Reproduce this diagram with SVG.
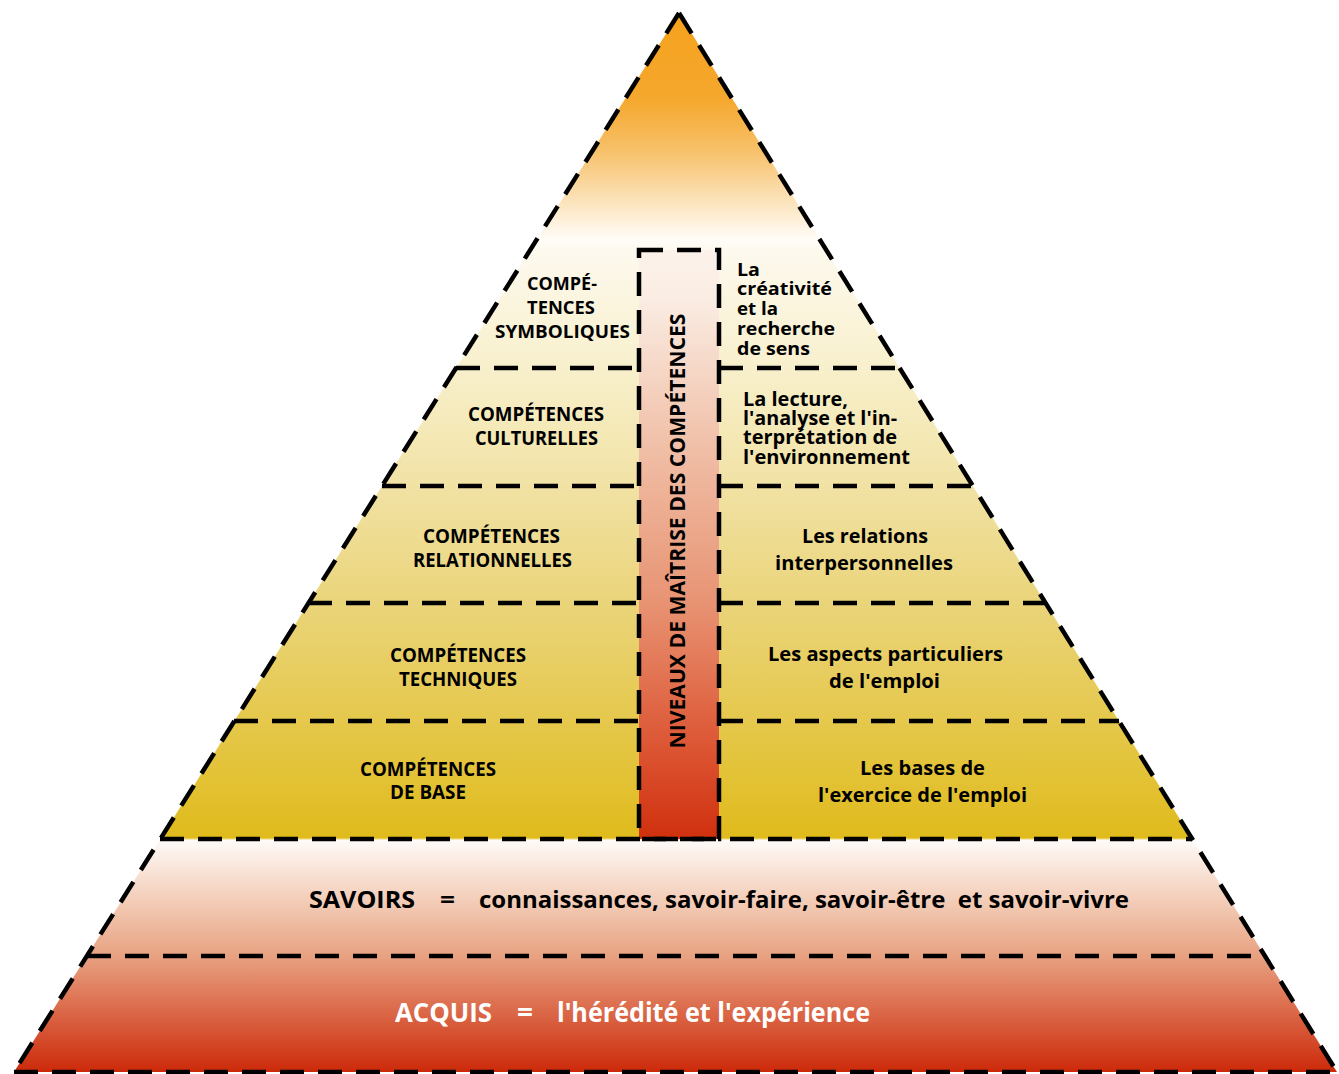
<svg xmlns="http://www.w3.org/2000/svg" width="1339" height="1074" viewBox="0 0 1339 1074">
<defs>
<linearGradient id="gPyr" gradientUnits="userSpaceOnUse" x1="0" y1="13" x2="0" y2="1072">
<stop offset="0" stop-color="#f5a11c"/>
<stop offset="0.082" stop-color="#f5a82e"/>
<stop offset="0.129" stop-color="#f7c068"/>
<stop offset="0.214" stop-color="#fffdf8"/>
<stop offset="0.224" stop-color="#fdf9ee"/>
<stop offset="0.335" stop-color="#f8f0cc"/>
<stop offset="0.447" stop-color="#f1e2a4"/>
<stop offset="0.557" stop-color="#ead47a"/>
<stop offset="0.669" stop-color="#e5c84c"/>
<stop offset="0.779" stop-color="#e0bb1c"/>
<stop offset="0.781" stop-color="#fefaf8"/>
<stop offset="0.838" stop-color="#f3cdb8"/>
<stop offset="0.890" stop-color="#e8a282"/>
<stop offset="1" stop-color="#cc2a0a"/>
</linearGradient>
<linearGradient id="gCol" gradientUnits="userSpaceOnUse" x1="0" y1="250" x2="0" y2="839">
<stop offset="0" stop-color="#fcf2ea"/>
<stop offset="0.085" stop-color="#faece2"/>
<stop offset="0.34" stop-color="#f0bea6"/>
<stop offset="0.594" stop-color="#e89474"/>
<stop offset="0.849" stop-color="#dc5432"/>
<stop offset="1" stop-color="#d0300e"/>
</linearGradient>
</defs>
<style>
.dash{fill:none;stroke:#000;stroke-width:4.5;stroke-dasharray:24 14}
text{font-family:"Open Sans","Liberation Sans",sans-serif;font-weight:700;fill:#000}
.cap{font-size:19px}
.cap18{font-size:18px}
.low{font-size:20px}
.low18{font-size:18.5px}
.big{font-size:24px}
.white{fill:#fff;font-size:26px}
</style>
<g id="pyramid-fill">
<polygon points="679,13 14,1072 1337,1072" fill="url(#gPyr)"/>
</g>
<g id="column">
<rect x="639" y="250" width="80" height="589" fill="url(#gCol)"/>
<rect x="639" y="250" width="80" height="589" class="dash"/>
<text transform="translate(685,531) rotate(-90)" text-anchor="middle" font-size="21" textLength="435" lengthAdjust="spacingAndGlyphs">NIVEAUX DE MAÎTRISE DES COMPÉTENCES</text>
</g>
<g id="connectors">
<line class="dash" x1="679" y1="13" x2="14" y2="1072"/>
<line class="dash" x1="679" y1="13" x2="1337" y2="1072"/>
<line class="dash" x1="14" y1="1072" x2="1337" y2="1072"/>
<line class="dash" x1="456" y1="368" x2="639" y2="368"/>
<line class="dash" x1="719" y1="368" x2="900" y2="368"/>
<line class="dash" x1="382" y1="486" x2="639" y2="486"/>
<line class="dash" x1="719" y1="486" x2="973" y2="486"/>
<line class="dash" x1="308" y1="603" x2="639" y2="603"/>
<line class="dash" x1="719" y1="603" x2="1046" y2="603"/>
<line class="dash" x1="234" y1="721" x2="639" y2="721"/>
<line class="dash" x1="719" y1="721" x2="1119" y2="721"/>
<line class="dash" x1="160" y1="839" x2="1192" y2="839"/>
<line class="dash" x1="87" y1="956" x2="1265" y2="956"/>
</g>
<g id="symboliques">
<text class="cap18" x="527" y="290" textLength="70" lengthAdjust="spacingAndGlyphs">COMPÉ-</text>
<text class="cap18" x="527" y="314" textLength="68" lengthAdjust="spacingAndGlyphs">TENCES</text>
<text class="cap18" x="495" y="338" textLength="135" lengthAdjust="spacingAndGlyphs">SYMBOLIQUES</text>
<text class="low18" x="737" y="276" textLength="23" lengthAdjust="spacingAndGlyphs">La</text>
<text class="low18" x="737" y="295" textLength="95" lengthAdjust="spacingAndGlyphs">créativité</text>
<text class="low18" x="737" y="315" textLength="41" lengthAdjust="spacingAndGlyphs">et la</text>
<text class="low18" x="737" y="335" textLength="98" lengthAdjust="spacingAndGlyphs">recherche</text>
<text class="low18" x="737" y="355" textLength="73" lengthAdjust="spacingAndGlyphs">de sens</text>
</g>
<g id="culturelles">
<text class="cap" x="468" y="421" textLength="136" lengthAdjust="spacingAndGlyphs">COMPÉTENCES</text>
<text class="cap" x="475" y="445" textLength="123" lengthAdjust="spacingAndGlyphs">CULTURELLES</text>
<text class="low" x="743" y="406" textLength="105" lengthAdjust="spacingAndGlyphs">La lecture,</text>
<text class="low" x="743" y="425" textLength="154" lengthAdjust="spacingAndGlyphs">l'analyse et l'in-</text>
<text class="low" x="743" y="444" textLength="154" lengthAdjust="spacingAndGlyphs">terprétation de</text>
<text class="low" x="743" y="464" textLength="167" lengthAdjust="spacingAndGlyphs">l'environnement</text>
</g>
<g id="relationnelles">
<text class="cap" x="423" y="543" textLength="137" lengthAdjust="spacingAndGlyphs">COMPÉTENCES</text>
<text class="cap" x="413" y="567" textLength="159" lengthAdjust="spacingAndGlyphs">RELATIONNELLES</text>
<text class="low" x="802" y="543" textLength="126" lengthAdjust="spacingAndGlyphs">Les relations</text>
<text class="low" x="775" y="570" textLength="178" lengthAdjust="spacingAndGlyphs">interpersonnelles</text>
</g>
<g id="techniques">
<text class="cap" x="390" y="662" textLength="136" lengthAdjust="spacingAndGlyphs">COMPÉTENCES</text>
<text class="cap" x="399" y="686" textLength="118" lengthAdjust="spacingAndGlyphs">TECHNIQUES</text>
<text class="low" x="768" y="661" textLength="235" lengthAdjust="spacingAndGlyphs">Les aspects particuliers</text>
<text class="low" x="829" y="688" textLength="111" lengthAdjust="spacingAndGlyphs">de l'emploi</text>
</g>
<g id="base">
<text class="cap" x="360" y="776" textLength="136" lengthAdjust="spacingAndGlyphs">COMPÉTENCES</text>
<text class="cap" x="390" y="799" textLength="76" lengthAdjust="spacingAndGlyphs">DE BASE</text>
<text class="low" x="860" y="775" textLength="125" lengthAdjust="spacingAndGlyphs">Les bases de</text>
<text class="low" x="818" y="802" textLength="209" lengthAdjust="spacingAndGlyphs">l'exercice de l'emploi</text>
</g>
<g id="savoirs">
<text class="big" x="309" y="908" textLength="106" lengthAdjust="spacingAndGlyphs">SAVOIRS</text>
<text class="big" x="440" y="908" textLength="15" lengthAdjust="spacingAndGlyphs">=</text>
<text class="big" x="479" y="908" textLength="650" lengthAdjust="spacingAndGlyphs" xml:space="preserve">connaissances, savoir-faire, savoir-être  et savoir-vivre</text>
</g>
<g id="acquis">
<text class="white" x="395" y="1022" textLength="97" lengthAdjust="spacingAndGlyphs">ACQUIS</text>
<text class="white" x="517" y="1022" textLength="16" lengthAdjust="spacingAndGlyphs">=</text>
<text class="white" x="557" y="1022" textLength="313" lengthAdjust="spacingAndGlyphs">l'hérédité et l'expérience</text>
</g>
</svg>
